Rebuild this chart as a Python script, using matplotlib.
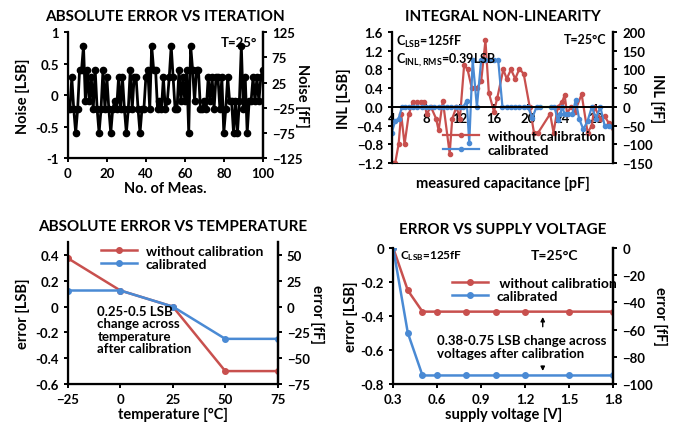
import matplotlib
matplotlib.use("Agg")
import matplotlib.pyplot as plt

plt.rcParams["font.family"] = ["Lato", "DejaVu Sans"]
plt.rcParams["font.weight"] = "bold"
plt.rcParams["axes.titleweight"] = "bold"
plt.rcParams["axes.labelweight"] = "bold"
plt.rcParams["mathtext.default"] = "regular"

# ── Data ───────────────────────────────────────────────────
RED = "#C8504E"
BLUE = "#4A8AD4"

meas_idx = list(range(101))
noise_lsb = [
    -0.22, -0.22, 0.28, -0.22, -0.6, -0.22, 0.4, 0.4, 0.78, -0.1,
    0.4, -0.1, 0.28, -0.22, 0.4, -0.22, -0.6, -0.22, 0.4, -0.22,
    0.28, -0.22, -0.6, -0.22, -0.1, -0.22, 0.28, -0.22, 0.28, -0.22,
    -0.6, -0.22, 0.4, -0.22, 0.28, 0.28, -0.22, -0.6, -0.22, -0.22,
    0.28, 0.4, -0.22, 0.78, 0.4, 0.4, -0.22, -0.1, -0.22, 0.28,
    -0.22, -0.1, 0.28, 0.78, 0.28, -0.22, -0.22, 0.4, -0.1, 0.28,
    -0.1, 0.4, -0.6, 0.78, 0.4, -0.1, 0.4, 0.4, -0.22, -0.22,
    -0.1, -0.22, 0.28, -0.1, 0.28, -0.22, 0.28, 0.28, -0.22, 0.28,
    -0.6, -0.22, 0.28, -0.1, -0.1, -0.6, -0.1, -0.6, -0.1, 0.78,
    -0.22, 0.28, -0.6, -0.1, -0.1, 0.28, -0.1, 0.28, -0.1, 0.28,
    0.4,
]

inl_raw_x = [4.1, 4.4, 4.8, 5.1, 5.5, 6.0, 6.5, 7.0, 7.4, 7.8, 8.1, 8.6, 9.2,
             9.5, 10.0, 10.8, 11.1, 11.6, 12.0, 12.5, 12.9, 13.4, 14.0, 14.5,
             15.0, 15.4, 16.0, 16.4, 17.1, 17.5, 18.0, 18.5, 19.0, 19.5, 20.2,
             20.7, 21.2, 22.6, 23.0, 23.5, 24.0, 24.3, 24.6, 25.0, 25.5, 26.3,
             27.0, 27.5, 27.8, 28.5, 29.0, 29.5, 30.0]
inl_raw = [-1.2, -1.2, -0.8, -0.15, -0.8, -0.15, 0.1, 0.1, 0.1, 0.1, -0.15,
           0.0, -0.25, -0.5, 0.13, -1.0, -0.25, 0.0, -0.25, 0.9, 0.8, 0.4,
           0.4, 0.55, 1.42, 0.3, -0.1, 0.2, 0.8, 0.6, 0.8, 0.6, 0.82, 0.7,
           0.0, -0.55, -0.55, -0.15, -0.55, 0.0, 0.1, 0.25, -0.15, 0.0,
           -0.1, 0.27, -0.55, -0.4, 0.0, -0.25, -0.2, -0.35, -0.45]

inl_cal_x = [4.0, 4.4, 4.8, 5.2, 5.6, 6.0, 6.5, 7.0, 7.5, 8.0, 8.5, 9.0, 9.5,
             10.0, 10.5, 11.0, 11.5, 12.0, 12.4, 12.8, 13.1, 13.5, 14.0, 14.5,
             15.0, 15.5, 16.0, 16.5, 17.0, 17.5, 18.0, 18.5, 19.0, 19.5, 20.0,
             20.5, 21.0, 21.4]
inl_cal = [-0.55, -0.3, -0.25, 0.0, 0.0, 0.0, 0.0, 0.0, 0.0, 0.0, 0.0, 0.0,
           0.0, 0.0, 0.0, 0.0, 0.0, 0.0, 0.0, 0.13, -0.77, 1.0, 0.0, 1.0,
           1.0, 1.0, 1.0, 1.0, 0.0, 0.0, 0.0, 0.0, 0.0, 0.0, 0.0, -0.24,
           0.0, 0.0]
inl_cal2_x = [22.7, 23.1, 23.5, 23.8, 24.0, 24.3, 24.7, 25.2, 25.6, 26.0,
              26.5, 27.0, 27.5, 28.0, 28.5, 29.0, 29.5, 30.0]
inl_cal2 = [0.0, 0.0, -0.28, -0.15, 0.0, -0.15, -0.15, -0.15, 0.14, -0.25,
            -0.48, -0.3, 0.0, -0.25, 0.0, -0.4, -0.4, -0.42]
inl_gap_x = [21.4, 22.7]
inl_gap = [0.0, 0.0]

temp_c = [-25, 0, 25, 50, 75]
temp_raw = [0.375, 0.125, 0.0, -0.5, -0.5]
temp_cal = [0.125, 0.125, 0.0, -0.25, -0.25]

vdd = [0.3, 0.4, 0.5, 0.6, 0.8, 1.0, 1.2, 1.5, 1.8]
vdd_raw = [0.0, -0.25, -0.375, -0.375, -0.375, -0.375, -0.375, -0.375, -0.375]
vdd_cal = [0.0, -0.5, -0.75, -0.75, -0.75, -0.75, -0.75, -0.75, -0.75]

TICK_FS = 9.5
LAB_FS = 10.5
TITLE_FS = 11


def style(ax, ylim, yticks, rlim, rticks, rlabel, rpad=8):
    ax.set_ylim(*ylim)
    ax.set_yticks(yticks)
    ax.spines["top"].set_visible(False)
    for s in ("left", "bottom", "right"):
        ax.spines[s].set_linewidth(1.6)
    ax.tick_params(labelsize=TICK_FS, width=1.4, length=3)
    ax2 = ax.twinx()
    ax2.set_ylim(*rlim)
    ax2.set_yticks(rticks)
    ax2.spines["top"].set_visible(False)
    ax2.spines["right"].set_linewidth(1.6)
    ax2.tick_params(labelsize=TICK_FS, width=1.4, length=3)
    ax2.set_ylabel(rlabel, fontsize=LAB_FS, rotation=270, labelpad=rpad)
    for lab in ax.get_xticklabels() + ax.get_yticklabels() + ax2.get_yticklabels():
        lab.set_fontweight("bold")
    return ax2


fig = plt.figure(figsize=(6.79, 4.35), dpi=100)

# ── Absolute error vs iteration ───────────────────────────
ax = fig.add_axes([0.100, 0.634, 0.287, 0.290])
ax.plot(meas_idx, noise_lsb, color="black", lw=2, marker="o", ms=4.5)
ax.set_xlim(0, 100)
ax.set_xticks([0, 20, 40, 60, 80, 100])
style(ax, (-1, 1), [-1, -0.5, 0, 0.5, 1], (-125, 125),
      [-125, -75, -25, 25, 75, 125], "Noise [fF]", rpad=5)
ax.set_yticklabels(["-1", "-0.5", "0", "0.5", "1"], fontweight="bold")
ax.set_ylabel("Noise [LSB]", fontsize=LAB_FS)
ax.set_xlabel("No. of Meas.", fontsize=LAB_FS, labelpad=1)
ax.set_title("ABSOLUTE ERROR VS ITERATION", fontsize=TITLE_FS, pad=9)
ax.text(0.97, 0.97, "T=25°", transform=ax.transAxes, ha="right", va="top",
        fontsize=9.5)

# ── Integral non-linearity ────────────────────────────────
ax = fig.add_axes([0.577, 0.623, 0.326, 0.301])
ax.plot(inl_raw_x, inl_raw, color=RED, lw=1.6, marker="o", ms=3,
        label="without calibration")
ax.plot(inl_cal_x, inl_cal, color=BLUE, lw=1.6, marker="o", ms=3,
        label="calibrated")
ax.plot(inl_cal2_x, inl_cal2, color=BLUE, lw=1.6, marker="o", ms=3)
ax.plot(inl_gap_x, inl_gap, color="#8CC63F", lw=1.6)
ax.set_xlim(4, 30)
ax.set_xticks([4, 8, 12, 16, 20, 24, 28])
style(ax, (-1.2, 1.6), [-1.2, -0.8, -0.4, 0, 0.4, 0.8, 1.2, 1.6],
      (-150, 200), [-150, -100, -50, 0, 50, 100, 150, 200], "INL [fF]")
ax.spines["bottom"].set_position(("data", 0))
ax.spines["bottom"].set_linewidth(1.4)
ax.tick_params(axis="x", direction="inout", length=4, pad=2)
ax.set_ylabel("INL [LSB]", fontsize=LAB_FS)
ax.text(0.5, -0.1, "measured capacitance [pF]", transform=ax.transAxes,
        ha="center", va="top", fontsize=LAB_FS)
ax.set_title("INTEGRAL NON-LINEARITY", fontsize=TITLE_FS, pad=9)
ax.text(0.02, 0.99, r"C$_{LSB}$=125fF", transform=ax.transAxes,
        ha="left", va="top", fontsize=9)
ax.text(0.02, 0.86, r"C$_{INL,RMS}$=0.39LSB", transform=ax.transAxes,
        ha="left", va="top", fontsize=9)
ax.text(0.97, 0.99, "T=25°C", transform=ax.transAxes, ha="right", va="top",
        fontsize=9)
ax.legend(loc="lower right", bbox_to_anchor=(1.02, -0.04), frameon=False,
          fontsize=10, handlelength=2.6, handletextpad=0.6, labelspacing=0.1,
          numpoints=1)

# ── Absolute error vs temperature ─────────────────────────
ax = fig.add_axes([0.100, 0.115, 0.309, 0.326])
ax.plot(temp_c, temp_raw, color=RED, lw=1.8, marker="o", ms=4,
        label="without calibration")
ax.plot(temp_c, temp_cal, color=BLUE, lw=1.8, marker="o", ms=4,
        label="calibrated")
ax.set_xlim(-25, 75)
ax.set_xticks([-25, 0, 25, 50, 75])
style(ax, (-0.6, 0.5), [-0.6, -0.4, -0.2, 0, 0.2, 0.4], (-75, 62.5),
      [-75, -50, -25, 0, 25, 50], "error [fF]", rpad=10)
ax.set_yticklabels(["-0.6", "-0.4", "-0.2", "0", "0.2", "0.4"],
                   fontweight="bold")
ax.set_ylabel("error [LSB]", fontsize=LAB_FS)
ax.set_xlabel("temperature [°C]", fontsize=LAB_FS, labelpad=1)
ax.set_title("ABSOLUTE ERROR VS TEMPERATURE", fontsize=TITLE_FS, pad=9)
ax.text(-11, 0.015, "0.25-0.5 LSB\nchange across\ntemperature\nafter calibration",
        ha="left", va="top", fontsize=9.5, linespacing=1.05)
ax.legend(loc="upper right", bbox_to_anchor=(0.99, 1.07), frameon=False,
          fontsize=10, handlelength=2.6, handletextpad=0.6, labelspacing=0.1,
          numpoints=1)

# ── Error vs supply voltage ───────────────────────────────
ax = fig.add_axes([0.579, 0.115, 0.324, 0.313])
ax.plot(vdd, vdd_raw, color=RED, lw=1.8, marker="o", ms=4,
        label=" without calibration")
ax.plot(vdd, vdd_cal, color=BLUE, lw=1.8, marker="o", ms=4,
        label="calibrated")
ax.set_xlim(0.3, 1.8)
ax.set_xticks([0.3, 0.6, 0.9, 1.2, 1.5, 1.8])
style(ax, (-0.8, 0), [-0.8, -0.6, -0.4, -0.2, 0], (-100, 0),
      [-100, -80, -60, -40, -20, 0], "error [fF]", rpad=10)
ax.set_yticklabels(["-0.8", "-0.6", "-0.4", "-0.2", "0"], fontweight="bold")
ax.set_ylabel("error [LSB]", fontsize=LAB_FS, labelpad=2)
ax.set_xlabel("supply voltage [V]", fontsize=LAB_FS, labelpad=1)
ax.set_title("ERROR VS SUPPLY VOLTAGE", fontsize=TITLE_FS, pad=11)
ax.text(0.35, -0.04, r"C$_{LSB}$=125fF", ha="left", va="center", fontsize=8.5)
ax.text(1.24, -0.04, "T=25°C", ha="left", va="center", fontsize=10)
ax.text(0.6, -0.58, "0.38-0.75 LSB change across\nvoltages after calibration",
        ha="left", va="center", fontsize=9.5, linespacing=1.1)
ax.annotate("", xy=(1.32, -0.39), xytext=(1.32, -0.48),
            arrowprops=dict(arrowstyle="-|>", color="black", lw=1,
                            mutation_scale=6))
ax.annotate("", xy=(1.32, -0.74), xytext=(1.32, -0.68),
            arrowprops=dict(arrowstyle="-|>", color="black", lw=1,
                            mutation_scale=6))
ax.legend(loc="upper left", bbox_to_anchor=(0.21, 0.88), frameon=False,
          fontsize=10, handlelength=2.6, handletextpad=0.6, labelspacing=0.1,
          numpoints=1)

fig.savefig("out.png", dpi=100)
